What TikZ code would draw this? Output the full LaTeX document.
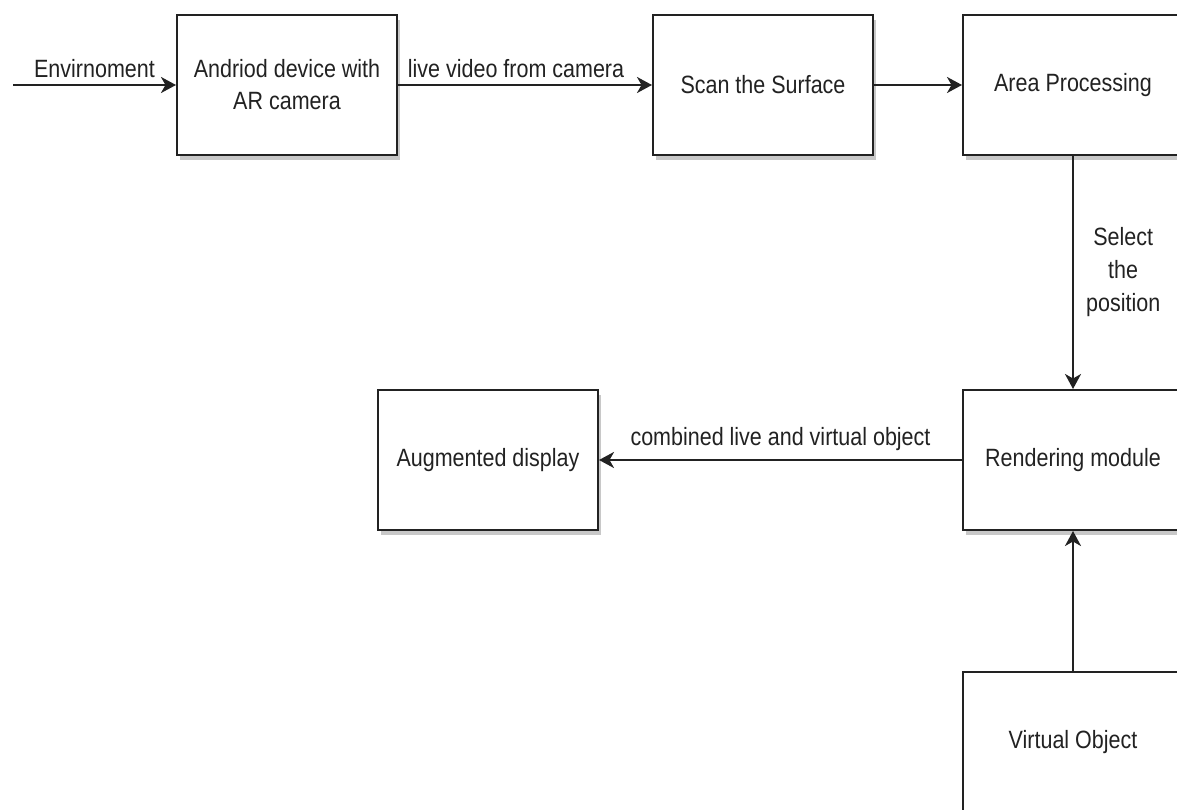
\documentclass[tikz,border=0pt]{standalone}
\usepackage{fontspec}
\setmainfont{Liberation Sans}[FakeStretch=0.86]
\usetikzlibrary{arrows.meta,shadows}
\definecolor{ink}{HTML}{222222}
\definecolor{shade}{HTML}{C8C8C8}
\tikzset{
  block/.style={draw=ink, line width=2pt, fill=white, rectangle,
    minimum width=220pt, minimum height=140pt, inner sep=0pt,
    text=ink, align=center, font=\fontsize{25}{32}\selectfont,
    drop shadow={shadow xshift=3pt, shadow yshift=-5pt, fill=shade, opacity=1}},
  flow/.style={draw=ink, line width=2.2pt,
    -{Stealth[length=15pt, width=16pt, inset=4.5pt]}},
  tag/.style={text=ink, font=\fontsize{25}{33}\selectfont, align=center, inner sep=2pt}
}
\begin{document}
\begin{tikzpicture}[x=1pt, y=-1pt]
  \useasboundingbox (0,0) rectangle (1177,810);
  \clip (0,0) rectangle (1177,810);
  \fill[white] (0,0) rectangle (1177,810);

  % processing blocks
  \node[block] (device) at (287,85) {Andriod device with\\AR camera};
  \node[block] (scan) at (763,85) {Scan the Surface};
  \node[block] (area) at (1073,85) {Area Processing};
  \node[block] (render) at (1073,460) {Rendering module};
  \node[block] (display) at (488,460) {Augmented display};
  \node[block] (virtual) at (1073,742) {Virtual Object};

  % incoming environment
  \coordinate (env) at (13,85);
  \draw[flow] (env) -- node[tag, above=4pt] {Envirnoment} (device.west);

  % data flow
  \draw[flow] (device.east) -- node[tag, above=4pt, xshift=-9pt] {live video from camera} (scan.west);
  \draw[flow] (scan.east) -- (area.west);
  \draw[flow] (area.south) -- node[tag, right=10pt] {Select\\the\\position} (render.north);
  \draw[flow] (render.west) -- node[tag, above=6pt] {combined live and virtual object} (display.east);
  \draw[flow] (virtual.north) -- (render.south);
\end{tikzpicture}
\end{document}
